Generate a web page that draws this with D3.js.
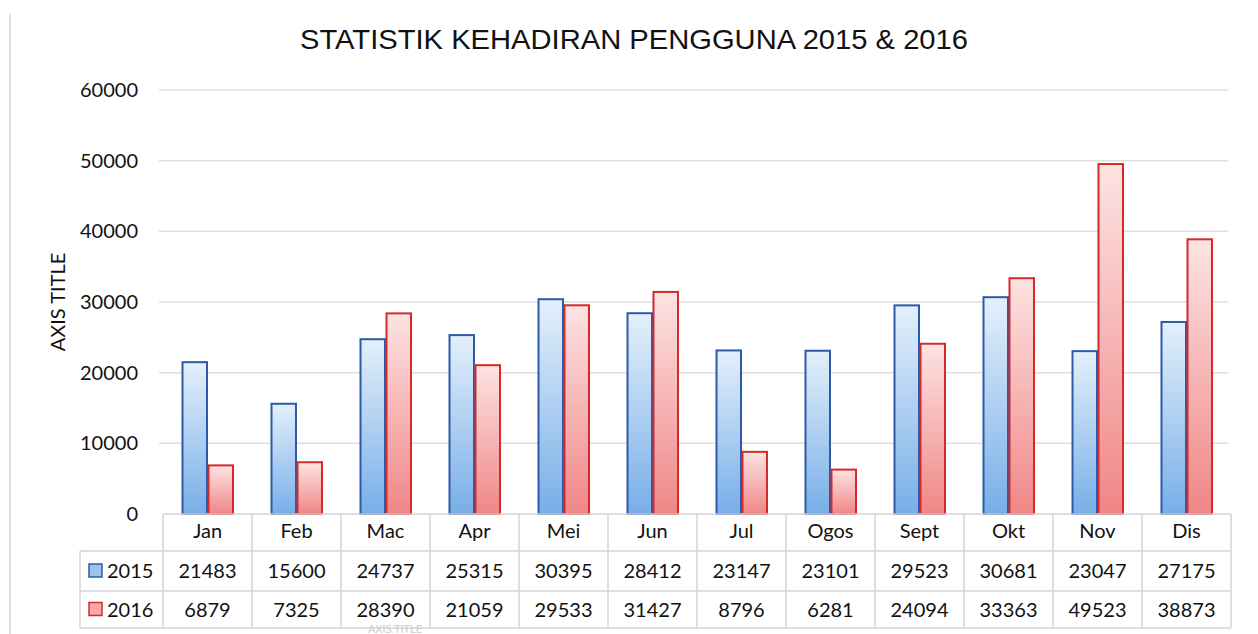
<!DOCTYPE html>
<html>
<head>
<meta charset="utf-8">
<script src="https://cdn.jsdelivr.net/npm/d3@7"></script>
<style>
  body { margin: 0; background: #fff; }
  svg { display: block; }
</style>
</head>
<body>
<div id="chart"></div>
<script>
var months = ["Jan", "Feb", "Mac", "Apr", "Mei", "Jun", "Jul", "Ogos", "Sept", "Okt", "Nov", "Dis"]
var years = ["2015", "2016"]
var values2015 = [21483, 15600, 24737, 25315, 30395, 28412, 23147, 23101, 29523, 30681, 23047, 27175]
var values2016 = [6879, 7325, 28390, 21059, 29533, 31427, 8796, 6281, 24094, 33363, 49523, 38873]
var yTicks = [0, 10000, 20000, 30000, 40000, 50000, 60000]

var width = 1258, height = 634
var margin = {top: 90, right: 27, bottom: 120, left: 163}
var plotW = width - margin.left - margin.right,
    plotH = height - margin.top - margin.bottom

var tickFont = "Lato, 'Open Sans', sans-serif"

var svg = d3.select("#chart")
  .append("svg")
  .attr("width", width)
  .attr("height", height)

// gradients
var defs = svg.append("defs")
function grad(id, top, bottom){
  var g = defs.append("linearGradient")
    .attr("id", id)
    .attr("x1", 0).attr("y1", 0).attr("x2", 0).attr("y2", 1)
  g.append("stop").attr("offset", "0%").attr("stop-color", top)
  g.append("stop").attr("offset", "100%").attr("stop-color", bottom)
}
grad("g2015", "#e4f0fb", "#78aee8")
grad("g2016", "#fde3e3", "#f08686")

var colors = {
  "2015": {fill: "url(#g2015)", stroke: "#2c5aa8", key: "#9cc3ec"},
  "2016": {fill: "url(#g2016)", stroke: "#d42a2a", key: "#f5a9a9"}
}

// chart border on left
svg.append("line")
  .attr("x1", 10).attr("x2", 10)
  .attr("y1", 14).attr("y2", height)
  .attr("stroke", "#dcdcdc")
  .attr("stroke-width", 2)

var g = svg.append("g")
  .attr("transform", "translate(" + margin.left + "," + margin.top + ")")

var x = d3.scaleBand()
  .domain(months)
  .range([0, plotW])

var x1 = d3.scaleBand()
  .domain(years)
  .range([0, 52])

var y = d3.scaleLinear()
  .domain([0, 60000])
  .range([plotH, 0])

// gridlines
g.selectAll(".grid")
  .data(yTicks.slice(1))
  .enter()
  .append("line")
  .attr("class", "grid")
  .attr("x1", -4).attr("x2", plotW - 3)
  .attr("y1", function(d){return y(d)})
  .attr("y2", function(d){return y(d)})
  .attr("stroke", "#dedede")
  .attr("stroke-width", 1.5)

// y axis labels
var yAxis = d3.axisLeft(y)
  .tickValues(yTicks)
  .tickSize(0)
  .tickPadding(25)
  .tickFormat(d3.format("d"))

g.append("g")
  .call(yAxis)
  .call(function(s){ s.select(".domain").remove() })
  .selectAll("text")
  .attr("font-family", tickFont)
  .attr("font-size", 20)
  .attr("fill", "#111")

// bars
var series = [values2015, values2016]
years.forEach(function(yr, i){
  g.selectAll(".bar" + yr)
    .data(series[i])
    .enter()
    .append("rect")
    .attr("class", "bar" + yr)
    .attr("x", function(d, j){return x(months[j]) + (x.bandwidth() - 52) / 2 + x1(yr) + 1})
    .attr("width", x1.bandwidth() - 1.5)
    .attr("y", function(d){return y(d)})
    .attr("height", function(d){return plotH - y(d)})
    .attr("fill", colors[yr].fill)
    .attr("stroke", colors[yr].stroke)
    .attr("stroke-width", 2)
})

// data table
var rowH = [37, 40, 37]
var tableTop = plotH
var legendLeft = 80 - margin.left
var lineColor = "#d4d4d4"
var t = g.append("g").attr("class", "table")

// horizontal lines
var rowY = [tableTop, tableTop + rowH[0], tableTop + rowH[0] + rowH[1], tableTop + rowH[0] + rowH[1] + rowH[2]]
t.append("line")
  .attr("x1", 0).attr("x2", plotW)
  .attr("y1", rowY[0]).attr("y2", rowY[0])
  .attr("stroke", lineColor).attr("stroke-width", 1.5)
rowY.slice(1).forEach(function(yy){
  t.append("line")
    .attr("x1", legendLeft).attr("x2", plotW)
    .attr("y1", yy).attr("y2", yy)
    .attr("stroke", lineColor).attr("stroke-width", 1.5)
})

// vertical lines
var cols = months.map(function(m){return x(m)}).concat([plotW])
t.selectAll(".vline")
  .data(cols)
  .enter()
  .append("line")
  .attr("class", "vline")
  .attr("x1", function(d){return d}).attr("x2", function(d){return d})
  .attr("y1", rowY[0]).attr("y2", rowY[3])
  .attr("stroke", lineColor).attr("stroke-width", 1.5)
t.append("line")
  .attr("x1", legendLeft).attr("x2", legendLeft)
  .attr("y1", rowY[1]).attr("y2", rowY[3])
  .attr("stroke", lineColor).attr("stroke-width", 1.5)

// month header
t.selectAll(".mlabel")
  .data(months)
  .enter()
  .append("text")
  .attr("class", "mlabel")
  .attr("x", function(d){return x(d) + x.bandwidth() / 2})
  .attr("y", rowY[0] + 24)
  .attr("text-anchor", "middle")
  .attr("font-family", tickFont)
  .attr("font-size", 20)
  .attr("fill", "#111")
  .text(function(d){return d})

// value rows
years.forEach(function(yr, i){
  var cy = (rowY[i + 1] + rowY[i + 2]) / 2
  t.append("rect")
    .attr("x", legendLeft + 9)
    .attr("y", cy - 7)
    .attr("width", 13).attr("height", 13)
    .attr("fill", colors[yr].key)
    .attr("stroke", colors[yr].stroke)
    .attr("stroke-width", 1.5)
  t.append("text")
    .attr("x", legendLeft + 27)
    .attr("y", cy + 7)
    .attr("font-family", tickFont)
    .attr("font-size", 20)
    .attr("fill", "#111")
    .text(yr)
  t.selectAll(".val" + yr)
    .data(series[i])
    .enter()
    .append("text")
    .attr("class", "val" + yr)
    .attr("x", function(d, j){return x(months[j]) + x.bandwidth() / 2})
    .attr("y", cy + 7)
    .attr("text-anchor", "middle")
    .attr("font-family", tickFont)
    .attr("font-size", 20)
    .attr("fill", "#111")
    .text(function(d){return d})
})

// title
svg.append("text")
  .attr("x", 634)
  .attr("y", 49)
  .attr("text-anchor", "middle")
  .attr("font-family", "'Liberation Sans', Arial, sans-serif")
  .attr("font-size", 28)
  .attr("textLength", 668)
  .attr("lengthAdjust", "spacingAndGlyphs")
  .attr("fill", "#111")
  .text("STATISTIK KEHADIRAN PENGGUNA 2015 & 2016")

// y axis title
svg.append("text")
  .attr("transform", "translate(65," + 302 + ") rotate(-90)")
  .attr("text-anchor", "middle")
  .attr("font-family", tickFont)
  .attr("font-size", 20)
  .attr("fill", "#111")
  .text("AXIS TITLE")

// faint x axis title at the bottom edge
svg.append("text")
  .attr("x", 395)
  .attr("y", 633)
  .attr("text-anchor", "middle")
  .attr("font-family", tickFont)
  .attr("font-size", 11)
  .attr("fill", "#cccccc")
  .text("AXIS TITLE")
</script>
</body>
</html>
